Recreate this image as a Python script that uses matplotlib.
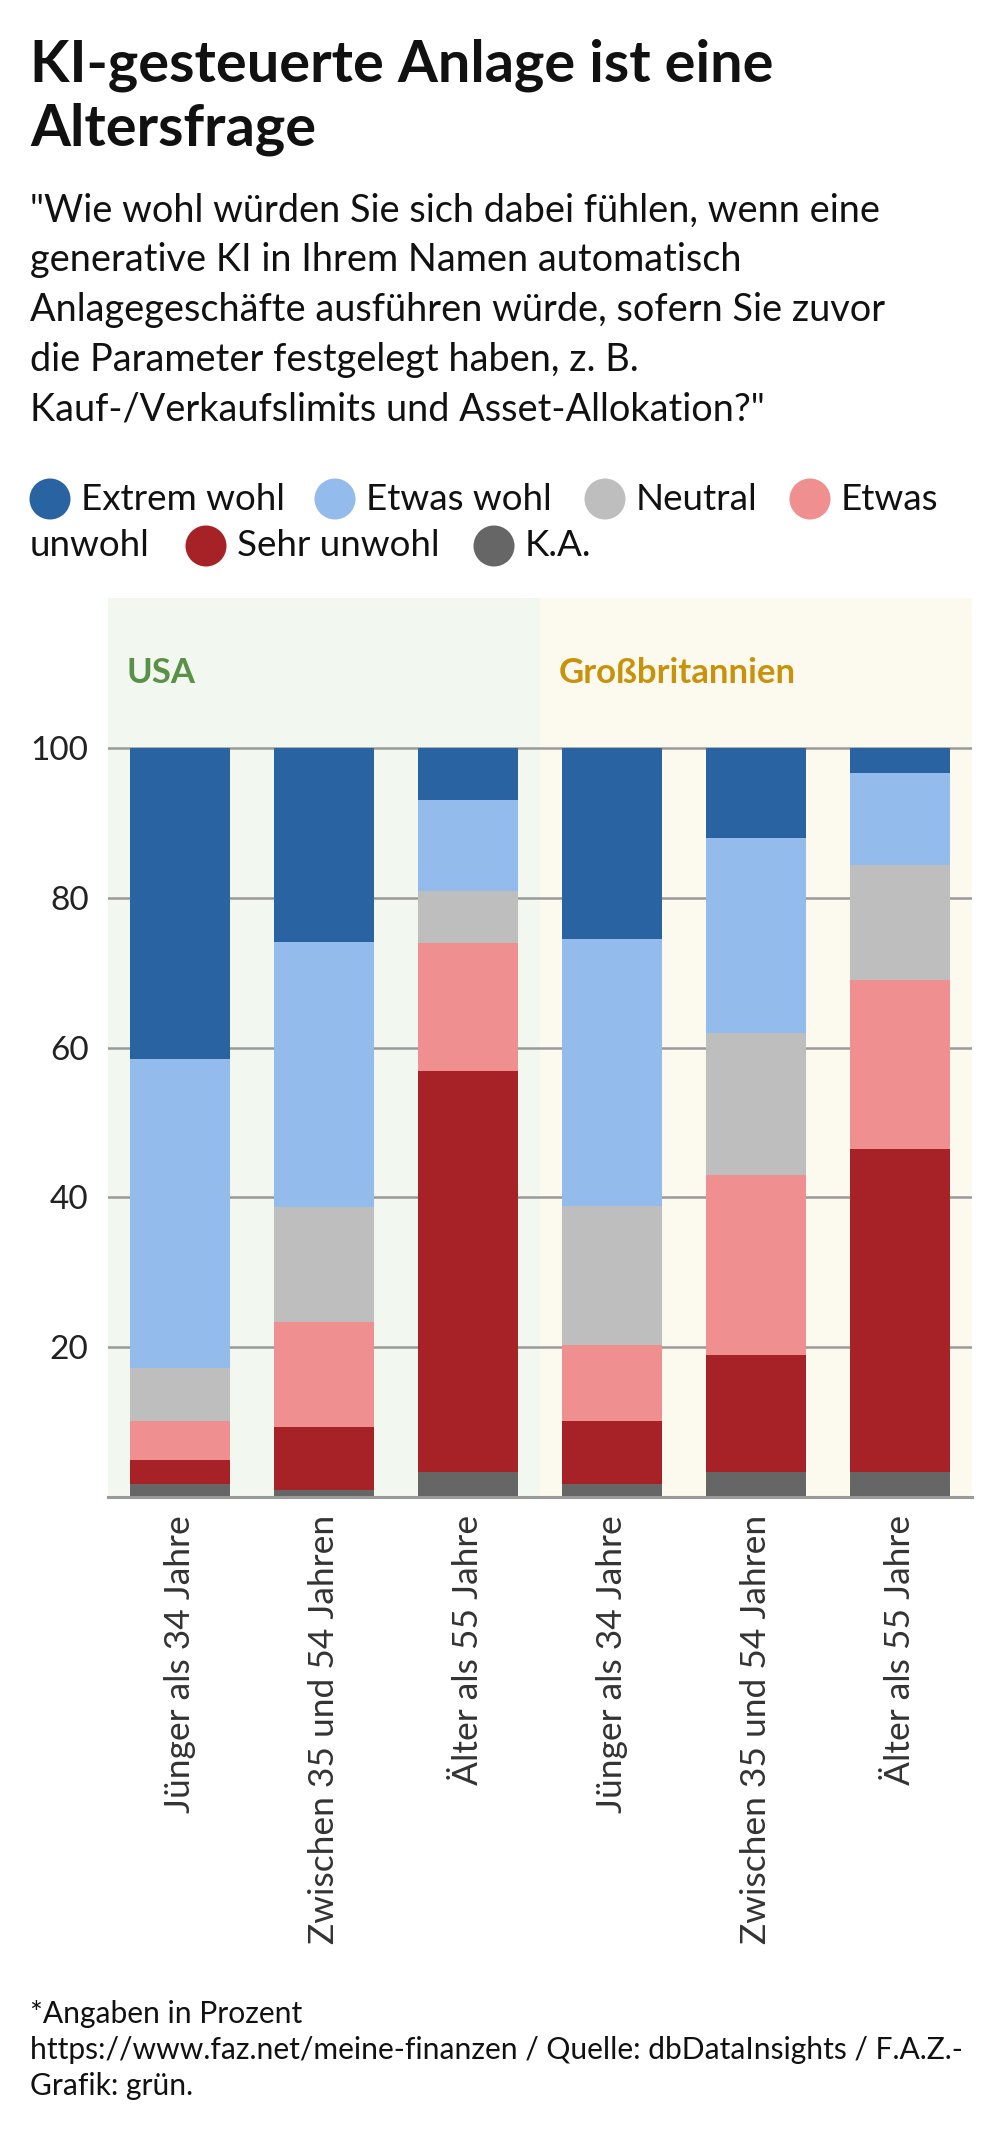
import matplotlib
matplotlib.use("Agg")
import matplotlib.pyplot as plt
from matplotlib.patches import Circle

# --- Data (percent) ---
groups = ["USA", "Großbritannien"]
age_labels = ["Jünger als 34 Jahre", "Zwischen 35 und 54 Jahren", "Älter als 55 Jahre"]
categories = ["Extrem wohl", "Etwas wohl", "Neutral", "Etwas unwohl", "Sehr unwohl", "K.A."]

# order of bars: USA young, mid, old, GB young, mid, old
extrem_wohl = [41.5, 25.9, 7.0, 25.5, 12.1, 3.4]
etwas_wohl = [41.3, 35.4, 12.1, 35.6, 25.9, 12.2]
neutral = [7.0, 15.4, 6.9, 18.6, 19.0, 15.4]
etwas_unwohl = [5.2, 13.9, 17.2, 10.2, 24.1, 22.5]
sehr_unwohl = [3.3, 8.5, 53.5, 8.4, 15.6, 43.2]
ka = [1.7, 0.9, 3.3, 1.7, 3.3, 3.3]

colors = ["#2963a2", "#93bbeb", "#bebebe", "#ef8f8f", "#a72226", "#666666"]
series = [extrem_wohl, etwas_wohl, neutral, etwas_unwohl, sehr_unwohl, ka]

title = "KI-gesteuerte Anlage ist eine\nAltersfrage"
subtitle_lines = [
    '"Wie wohl würden Sie sich dabei fühlen, wenn eine',
    "generative KI in Ihrem Namen automatisch",
    "Anlagegeschäfte ausführen würde, sofern Sie zuvor",
    "die Parameter festgelegt haben, z. B.",
    'Kauf-/Verkaufslimits und Asset-Allokation?"',
]
footer_lines = [
    "*Angaben in Prozent",
    "https://www.faz.net/meine-finanzen / Quelle: dbDataInsights / F.A.Z.-",
    "Grafik: grün.",
]

W, H = 1005, 2136
plt.rcParams["font.family"] = ["Lato", "DejaVu Sans"]

fig = plt.figure(figsize=(W / 100, H / 100), dpi=100)

# --- Chart axes ---
ax = fig.add_axes([108 / W, (H - 1497) / H, 864 / W, 899 / H])
x = list(range(len(age_labels) * len(groups)))
ax.axvspan(-0.5, 2.5, color="#f2f8f0", zorder=0, lw=0)
ax.axvspan(2.5, 5.5, color="#fcf9ef", zorder=0, lw=0)

bottom = [0] * len(x)
for vals, col in reversed(list(zip(series, colors))):
    ax.bar(x, vals, bottom=bottom, width=0.7, color=col, zorder=2, lw=0)
    bottom = [b + v for b, v in zip(bottom, vals)]

ax.set_xlim(-0.5, 5.5)
ax.set_ylim(0, 120)
ax.set_yticks([20, 40, 60, 80, 100])
ax.set_axisbelow(True)
ax.yaxis.grid(True, color="#9a9a9a", lw=1.8)
ax.axhline(0, color="#9a9a9a", lw=2.2, zorder=3, clip_on=False)
for s in ax.spines.values():
    s.set_visible(False)
ax.set_xticks(x)
ax.set_xticklabels(age_labels * len(groups), rotation=90, fontsize=25.5, color="#333333")
ax.tick_params(axis="x", length=0, pad=13)
ax.tick_params(axis="y", length=0, pad=14, labelsize=24, labelcolor="#222222")

ax.text(-0.37, 110, groups[0], fontsize=25, fontweight="bold", color="#5a9149", va="center")
ax.text(2.63, 110, groups[1], fontsize=25, fontweight="bold", color="#c8920a", va="center")

# --- Overlay in pixel coordinates for texts and legend ---
ov = fig.add_axes([0, 0, 1, 1])
ov.set_xlim(0, W)
ov.set_ylim(H, 0)
ov.axis("off")

for i, line in enumerate(title.split("\n")):
    ov.text(30, 81 + i * 65, line, fontsize=41.5, fontweight="bold", va="baseline", color="#111111")

for i, line in enumerate(subtitle_lines):
    ov.text(30, 222 + i * 49.5, line, fontsize=27.3, va="baseline", color="#111111")

# legend (wrapped like the original)
legend_rows = [
    [(50, categories[0]), (335, categories[1]), (605, categories[2]), (810, categories[3].split(" ")[0])],
    [(None, categories[3].split(" ")[1]), (206, categories[4]), (494, categories[5])],
]
legend_colors = [colors[:4], [None, colors[4], colors[5]]]
for row, (items, cols) in enumerate(zip(legend_rows, legend_colors)):
    cy = 499 + row * 47
    for (cx, label), col in zip(items, cols):
        if cx is None:
            ov.text(30, cy, label, fontsize=26.5, va="center", color="#111111")
            continue
        ov.add_patch(Circle((cx, cy), 20.5, color=col, lw=0))
        ov.text(cx + 31, cy, label, fontsize=26.5, va="center", color="#111111")

for i, line in enumerate(footer_lines):
    ov.text(30, 2023 + i * 36, line, fontsize=21.6, va="baseline", color="#111111")

fig.savefig("out.png", dpi=100)
